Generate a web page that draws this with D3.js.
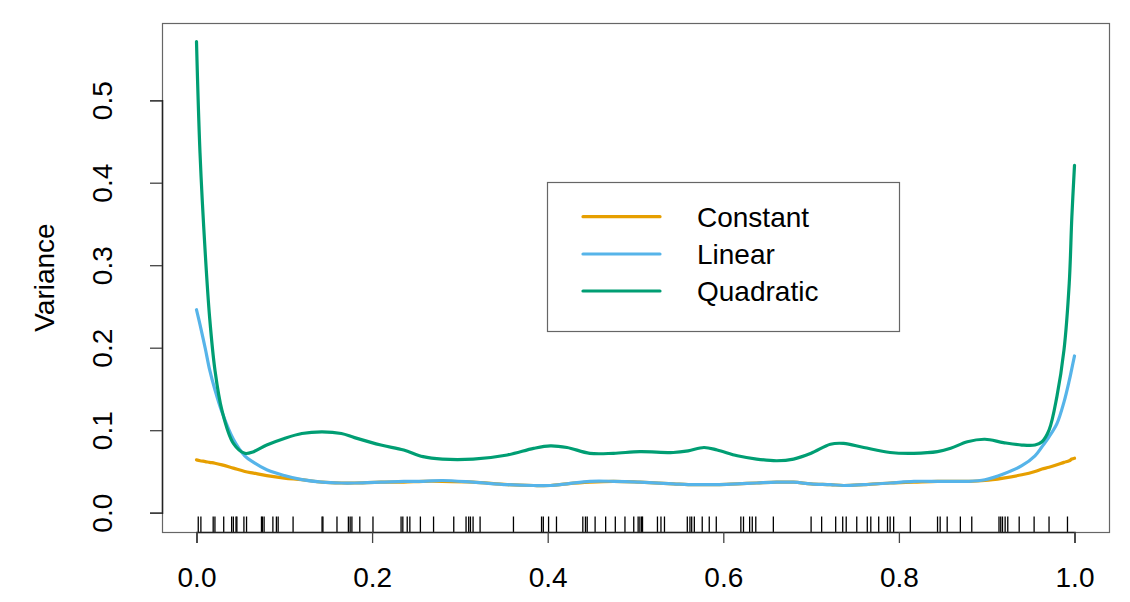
<!DOCTYPE html>
<html>
<head>
<meta charset="utf-8">
<script src="https://cdn.jsdelivr.net/npm/d3@7"></script>
<style>
html,body{margin:0;padding:0;background:#fff;}
svg text{font-family:"Liberation Sans",Arial,sans-serif;fill:#000;}
</style>
</head>
<body>
<svg id="chart" width="1130" height="602"></svg>
<script>
// ---- data ----
const xGrid = [0, 0.004, 0.01, 0.015, 0.021, 0.029, 0.042, 0.055, 0.065, 0.08, 0.1, 0.12, 0.143, 0.165, 0.18, 0.21, 0.236, 0.258, 0.28, 0.315, 0.354, 0.384, 0.403, 0.422, 0.448, 0.475, 0.505, 0.543, 0.56, 0.578, 0.593, 0.616, 0.638, 0.661, 0.68, 0.7, 0.722, 0.737, 0.76, 0.79, 0.817, 0.844, 0.859, 0.878, 0.898, 0.919, 0.94, 0.955, 0.963, 0.971, 0.98, 0.988, 0.994, 0.997, 1.0];

const constantVar = [0.064, 0.063, 0.062, 0.061, 0.060, 0.058, 0.054, 0.050, 0.048, 0.045, 0.042, 0.040, 0.037, 0.036, 0.036, 0.037, 0.037, 0.038, 0.038, 0.037, 0.034, 0.033, 0.033, 0.035, 0.037, 0.038, 0.037, 0.035, 0.034, 0.034, 0.034, 0.035, 0.036, 0.037, 0.037, 0.035, 0.034, 0.033, 0.034, 0.036, 0.037, 0.038, 0.038, 0.038, 0.039, 0.042, 0.046, 0.050, 0.053, 0.055, 0.058, 0.061, 0.063, 0.065, 0.066];

const linearVar = [0.246, 0.228, 0.199, 0.173, 0.149, 0.122, 0.089, 0.069, 0.061, 0.052, 0.045, 0.040, 0.037, 0.036, 0.036, 0.037, 0.038, 0.038, 0.039, 0.037, 0.034, 0.033, 0.033, 0.035, 0.038, 0.038, 0.037, 0.035, 0.034, 0.034, 0.034, 0.035, 0.036, 0.037, 0.037, 0.035, 0.034, 0.033, 0.034, 0.036, 0.038, 0.038, 0.038, 0.038, 0.040, 0.047, 0.057, 0.069, 0.080, 0.092, 0.108, 0.134, 0.160, 0.175, 0.190];

const quadraticVar = [0.571, 0.436, 0.314, 0.236, 0.173, 0.124, 0.084, 0.072, 0.074, 0.082, 0.090, 0.096, 0.098, 0.096, 0.091, 0.082, 0.076, 0.068, 0.065, 0.065, 0.070, 0.078, 0.081, 0.079, 0.072, 0.072, 0.074, 0.073, 0.075, 0.079, 0.076, 0.069, 0.065, 0.063, 0.065, 0.072, 0.083, 0.084, 0.079, 0.073, 0.072, 0.074, 0.078, 0.086, 0.089, 0.085, 0.082, 0.082, 0.086, 0.100, 0.141, 0.197, 0.278, 0.359, 0.421];

const rugX = [0.002, 0.005, 0.019, 0.021, 0.031, 0.040, 0.042, 0.045, 0.046, 0.054, 0.057, 0.074, 0.075, 0.077, 0.087, 0.091, 0.093, 0.110, 0.143, 0.144, 0.160, 0.173, 0.175, 0.177, 0.186, 0.201, 0.233, 0.235, 0.240, 0.243, 0.255, 0.270, 0.293, 0.307, 0.310, 0.312, 0.315, 0.323, 0.361, 0.393, 0.395, 0.401, 0.410, 0.440, 0.443, 0.445, 0.454, 0.466, 0.477, 0.488, 0.498, 0.503, 0.505, 0.507, 0.508, 0.525, 0.529, 0.533, 0.559, 0.562, 0.564, 0.567, 0.576, 0.584, 0.592, 0.620, 0.623, 0.630, 0.633, 0.637, 0.657, 0.700, 0.712, 0.728, 0.736, 0.740, 0.752, 0.764, 0.768, 0.777, 0.787, 0.790, 0.794, 0.813, 0.844, 0.847, 0.855, 0.870, 0.883, 0.914, 0.916, 0.918, 0.921, 0.924, 0.937, 0.954, 0.971, 0.992];

const seriesNames = ["Constant", "Linear", "Quadratic"];
const seriesColors = ["#E69F00", "#56B4E9", "#009E73"];
const xTicks = [0.0, 0.2, 0.4, 0.6, 0.8, 1.0];
const yTicks = [0.0, 0.1, 0.2, 0.3, 0.4, 0.5];
const yLabel = "Variance";

// ---- layout ----
const svg = d3.select("#chart");
const box = {left: 162, right: 1109, top: 23, bottom: 532};
const x = d3.scaleLinear().domain([0, 1]).range([196.5, 1074.5]);
const y = d3.scaleLinear().domain([0, 0.5]).range([512.7, 100.2]);
const fontSize = 28;

// series lines
const allSeries = [constantVar, linearVar, quadraticVar];
const line = d3.line().x((d, i) => x(xGrid[i])).y(d => y(d)).curve(d3.curveCatmullRom.alpha(0.5));
allSeries.forEach((vals, k) => {
  svg.append("path")
    .attr("d", line(vals))
    .attr("fill", "none")
    .attr("stroke", seriesColors[k])
    .attr("stroke-width", 3.2)
    .attr("stroke-linejoin", "round")
    .attr("stroke-linecap", "round");
});

// rug
svg.append("g").selectAll("line").data(rugX).join("line")
  .attr("x1", d => x(d)).attr("x2", d => x(d))
  .attr("y1", box.bottom - 15.5).attr("y2", box.bottom)
  .attr("stroke", "#000").attr("stroke-width", 1.3);

// plot box
svg.append("rect")
  .attr("x", box.left + 0.5).attr("y", box.top + 0.5)
  .attr("width", box.right - box.left).attr("height", box.bottom - box.top)
  .attr("fill", "none").attr("stroke", "#666").attr("stroke-width", 1.2);

// x axis
const xAxis = d3.axisBottom(x).tickValues(xTicks).tickFormat(d3.format(".1f")).tickSize(11).tickPadding(24);
const gx = svg.append("g").attr("transform", `translate(0,${box.bottom})`).call(xAxis);
gx.select(".domain").attr("stroke", "#222").attr("stroke-width", 1.5);
gx.selectAll(".tick line").attr("stroke", "#444").attr("stroke-width", 1.3);
gx.selectAll("text").attr("font-size", fontSize).attr("font-family", "Liberation Sans, Arial, sans-serif").attr("fill", "#000");

// y axis
const yAxis = d3.axisLeft(y).tickValues(yTicks).tickFormat(d3.format(".1f")).tickSize(12).tickPadding(0);
const gy = svg.append("g").attr("transform", `translate(${box.left},0)`).call(yAxis);
gy.select(".domain").attr("stroke", "#222").attr("stroke-width", 1.5);
gy.selectAll(".tick line").attr("stroke", "#444").attr("stroke-width", 1.3);
gy.selectAll("text")
  .attr("font-size", fontSize).attr("font-family", "Liberation Sans, Arial, sans-serif").attr("fill", "#000")
  .attr("x", null).attr("dy", null)
  .attr("text-anchor", "middle")
  .attr("transform", `translate(${112 - box.left},0) rotate(-90)`);

// y label
svg.append("text")
  .attr("transform", `translate(54,${y(0.285)}) rotate(-90)`)
  .attr("text-anchor", "middle")
  .attr("font-size", fontSize)
  .text(yLabel);

// legend
const leg = {x: 547.5, y: 182.5, w: 352, h: 149};
svg.append("rect").attr("x", leg.x).attr("y", leg.y).attr("width", leg.w).attr("height", leg.h)
  .attr("fill", "#fff").attr("stroke", "#666").attr("stroke-width", 1.2);
const legRowY = [216.7, 254, 291];
seriesNames.forEach((name, k) => {
  svg.append("line").attr("x1", 583).attr("x2", 660).attr("y1", legRowY[k]).attr("y2", legRowY[k])
    .attr("stroke", seriesColors[k]).attr("stroke-width", 3.2).attr("stroke-linecap", "round");
  svg.append("text").attr("x", 697).attr("y", legRowY[k]).attr("dy", "0.35em")
    .attr("font-size", fontSize).text(name);
});
</script>
</body>
</html>
